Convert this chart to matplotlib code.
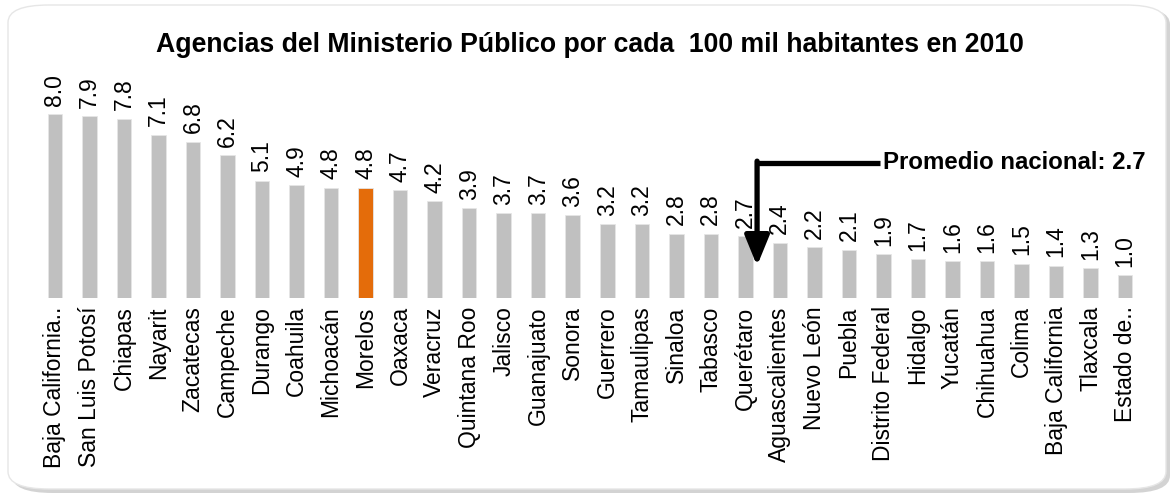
import numpy as np
import matplotlib as mpl
import matplotlib.pyplot as plt
from matplotlib.patches import FancyBboxPatch

mpl.rc('font', family=['Liberation Sans', 'DejaVu Sans'], size=16.5)

estados = ['Baja California..', 'San Luis Potosí', 'Chiapas', 'Nayarit', 'Zacatecas',
           'Campeche', 'Durango', 'Coahuila', 'Michoacán', 'Morelos', 'Oaxaca',
           'Veracruz', 'Quintana Roo', 'Jalisco', 'Guanajuato', 'Sonora', 'Guerrero',
           'Tamaulipas', 'Sinaloa', 'Tabasco', 'Querétaro', 'Aguascalientes',
           'Nuevo León', 'Puebla', 'Distrito Federal', 'Hidalgo', 'Yucatán',
           'Chihuahua', 'Colima', 'Baja California', 'Tlaxcala', 'Estado de..']
agencias = [8.0, 7.9, 7.8, 7.1, 6.8, 6.2, 5.1, 4.9, 4.8, 4.8, 4.7, 4.2, 3.9, 3.7,
            3.7, 3.6, 3.2, 3.2, 2.8, 2.8, 2.7, 2.4, 2.2, 2.1, 1.9, 1.7, 1.6, 1.6,
            1.5, 1.4, 1.3, 1.0]
destacado = 'Morelos'
promedio = 2.7

W, H = 1173, 497
fig = plt.figure(figsize=(W / 100, H / 100), dpi=100)

# marco redondeado con sombra
sombra = FancyBboxPatch((12 / W, 4 / H), 1158 / W, 486 / H,
                        boxstyle='round,pad=0,rounding_size=0.035',
                        transform=fig.transFigure, facecolor='#a8a8a8',
                        edgecolor='none', alpha=0.5, zorder=-2)
marco = FancyBboxPatch((8 / W, 8 / H), 1158 / W, 484 / H,
                       boxstyle='round,pad=0,rounding_size=0.035',
                       transform=fig.transFigure, facecolor='white',
                       edgecolor='#e6e6e6', linewidth=1, zorder=-1)
fig.patches.extend([sombra, marco])

ax = fig.add_axes([37.7 / W, 1 - 298 / H, 1104.6 / W, 230 / H])
ax.patch.set_alpha(0)

x = np.arange(len(estados))
colores = ['#e46c0a' if e == destacado else '#c0c0c0' for e in estados]
ax.bar(x, agencias, width=0.42, color=colores, edgecolor='#e6e6e6', linewidth=0.6)

for xi, v in zip(x, agencias):
    ax.annotate('{:.1f}'.format(v), (xi, v), xytext=(0, 6), textcoords='offset points',
                rotation=90, ha='center', va='bottom', fontsize=16.5)

ax.set_xlim(-0.5, len(estados) - 0.5)
ax.set_ylim(0, 10)
ax.set_xticks(x)
ax.set_xticklabels(estados, rotation=90, va='top', ha='center')
ax.tick_params(axis='x', length=0, pad=6)
ax.set_yticks([])
for s in ax.spines.values():
    s.set_visible(False)

# flecha del promedio nacional
ax.plot([20.34, 23.9], [5.87, 5.87], color='black', linewidth=3.8, solid_capstyle='butt')
ax.annotate('', xy=(20.34, 1.4), xytext=(20.34, 5.95),
            arrowprops=dict(arrowstyle='-|>,head_length=1.1,head_width=0.45',
                            color='black', linewidth=3.8, shrinkA=0, shrinkB=0))
ax.text(23.98, 5.87, 'Promedio nacional: {:.1f}'.format(promedio), fontsize=17.3,
        fontweight='bold', ha='left', va='center')

fig.text(590 / W, 1 - 45 / H,
         'Agencias del Ministerio Público por cada  100 mil habitantes en 2010',
         ha='center', va='center', fontsize=19.2, fontweight='bold')

fig.savefig('out.png', dpi=100)
